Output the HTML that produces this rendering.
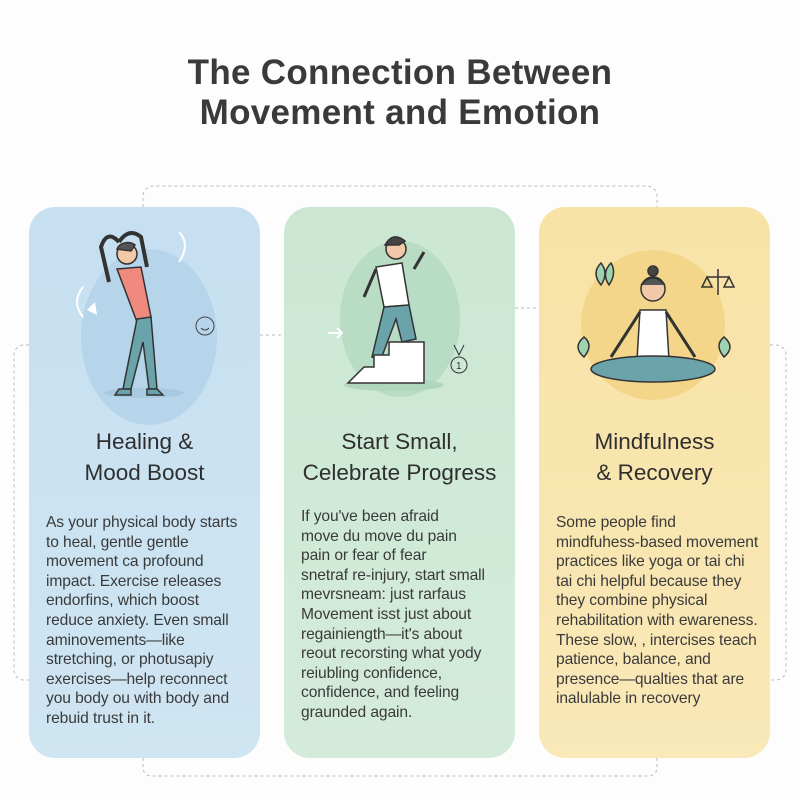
<!DOCTYPE html>
<html><head><meta charset="utf-8"><style>
body{margin:0;width:800px;height:800px;background:#fdfdfd;font-family:"Liberation Sans",sans-serif;position:relative;overflow:hidden}
h1{position:absolute;top:53px;left:0;width:800px;margin:0;text-align:center;font-size:35px;line-height:40px;font-weight:bold;color:#3a3a3a;letter-spacing:0.3px}
.card{position:absolute;top:207px;width:231px;height:551px;border-radius:26px}
.c1{left:29px;background:linear-gradient(#c6e0f1,#cfe5f2)}
.c2{left:284px;background:linear-gradient(#cbe7d4,#d4ebdb)}
.c3{left:539px;background:linear-gradient(#f8e3a6,#f9e8b8)}
.h{position:absolute;top:219px;left:0;width:100%;text-align:center;font-size:22.5px;line-height:31px;color:#2f2f2f}
.t{position:absolute;top:306px;left:17px;font-size:15.6px;line-height:19.6px;color:#3a3a3a;white-space:nowrap;letter-spacing:-0.1px}
svg.ill{position:absolute;top:0;left:0}
</style></head><body>
<svg width="800" height="800" style="position:absolute;top:0;left:0">
<g fill="none" stroke="#bbb" stroke-width="1" stroke-dasharray="3,3">
<path d="M143 207 V196 a10 10 0 0 1 10 -10 H647 a10 10 0 0 1 10 10 V207"/>
<path d="M29 345 H24 a10 10 0 0 0 -10 10 V670 a10 10 0 0 0 10 10 H29"/>
<path d="M770 345 H776 a10 10 0 0 1 10 10 V670 a10 10 0 0 1 -10 10 H770"/>
<path d="M260 335 H284 M515 308 H539"/>
<path d="M143 758 V768 a8 8 0 0 0 8 8 H649 a8 8 0 0 0 8 -8 V758"/>
</g></svg>
<h1>The Connection Between<br>Movement and Emotion</h1>

<div class="card c1">
<svg class="ill" width="231" height="220">
<ellipse cx="120" cy="130" rx="68" ry="88" fill="#b6d4ea"/>
<ellipse cx="115" cy="186" rx="40" ry="5" fill="#a9c9e0"/>
<g stroke="#333" stroke-width="1.5">
<path d="M80 75 L72 40 Q78 22 90 35 M118 60 L112 30 Q100 20 90 35" stroke-width="4" fill="none"/>
<circle cx="98" cy="47" r="10" fill="#f1c9a8"/>
<path d="M88 42 a11 9 0 0 1 18 -4 l-4 6 z" fill="#555"/>
<path d="M88 62 L112 60 L122 110 L108 115 Z" fill="#f08a7e"/>
<path d="M108 112 L122 110 L128 182 L120 182 L114 135 L102 182 L94 182 Z" fill="#6aa3aa"/>
<path d="M90 182 l12 0 l0 6 l-16 0 z M118 182 l10 0 l6 6 l-16 0 z" fill="#6aa3aa"/>
</g>
<path d="M58 103 L66 95 L68 108 Z" fill="#fff"/>
<path d="M54 80 q-12 15 0 30 M150 25 q12 12 0 30" stroke="#fff" stroke-width="2" fill="none"/>
<circle cx="176" cy="119" r="9" fill="none" stroke="#444"/>
<path d="M172 121 q4 4 8 0" stroke="#444" fill="none"/>
</svg>
<div class="h">Healing &amp;<br>Mood Boost</div>
<div class="t">As your physical body starts<br>to heal, gentle gentle<br>movement ca profound<br>impact. Exercise releases<br>endorfins, which boost<br>reduce anxiety. Even small<br>aminovements—like<br>stretching, or photusapiy<br>exercises—help reconnect<br>you body ou with body and<br>rebuid trust in it.</div>
</div>

<div class="card c2">
<svg class="ill" width="231" height="220">
<ellipse cx="116" cy="112" rx="60" ry="78" fill="#b8dcc4"/>
<ellipse cx="110" cy="178" rx="50" ry="6" fill="#b0d6bc"/>
<g stroke="#333" stroke-width="1.5">
<circle cx="112" cy="42" r="10" fill="#f1c9a8"/>
<path d="M101 38 q8 -14 20 -4 l-6 4 z" fill="#444"/>
<path d="M92 62 L80 90 M130 62 L140 45" stroke-width="3" fill="none"/>
<path d="M92 60 L118 56 L125 98 L100 100 Z" fill="#fff"/>
<path d="M100 100 L88 150 L97 152 L112 112 L118 135 L132 132 L125 98 Z" fill="#6aa3aa"/>
<path d="M64 176 L80 160 L90 160 L90 148 L105 148 L105 135 L140 135 V176 Z" fill="#fff"/>
</g>
<path d="M44 126 H58 M53 121 L58 126 L53 131" stroke="#fff" stroke-width="2" fill="none"/>
<path d="M170 138 l5 10 l5 -10" stroke="#333" fill="none"/>
<circle cx="175" cy="158" r="8" fill="none" stroke="#333"/>
<text x="172" y="162" font-size="10" fill="#333">1</text>
</svg>
<div class="h">Start Small,<br>Celebrate Progress</div>
<div class="t" style="top:300px">If you've been afraid<br>move du move du pain<br>pain or fear of fear<br>snetraf re-injury, start small<br>mevrsneam: just rarfaus<br>Movement isst just about<br>regainiength—it's about<br>reout recorsting what yody<br>reiubling confidence,<br>confidence, and feeling<br>graunded again.</div>
</div>

<div class="card c3">
<svg class="ill" width="231" height="220">
<ellipse cx="114" cy="118" rx="72" ry="75" fill="#f3d68a"/>
<g stroke="#333" stroke-width="1.5">
<circle cx="114" cy="64" r="5" fill="#444"/>
<circle cx="114" cy="82" r="12" fill="#f1c9a8"/>
<path d="M102 78 q12 -14 24 0" fill="#555"/>
<path d="M101 103 L127 103 L130 153 L98 153 Z" fill="#fff"/>
<path d="M101 105 L72 150 M127 105 L156 150" stroke-width="3" fill="none"/>
<ellipse cx="114" cy="162" rx="62" ry="13" fill="#6aa3aa"/>
<path d="M62 78 q-10 -12 0 -22 q8 10 0 22 Z M70 78 q-8 -12 2 -22 q6 10 -2 22 Z" fill="#9fd3b0"/>
<path d="M45 150 q-12 -10 0 -20 q10 8 0 20 Z M185 150 q12 -10 0 -20 q-10 8 0 20 Z" fill="#9fd3b0"/>
<path d="M168 70 H190 M179 62 V88 M168 70 l-5 10 h10 z M190 70 l-5 10 h10 z" fill="none"/>
</g>
</svg>
<div class="h">Mindfulness<br>&amp; Recovery</div>
<div class="t" style="top:306px">Some people find<br>mindfuhess-based movement<br>practices like yoga or tai chi<br>tai chi helpful because they<br>they combine physical<br>rehabilitation with ewareness.<br>These slow, , intercises teach<br>patience, balance, and<br>presence—qualties that are<br>inalulable in recovery</div>
</div>
</body></html>
